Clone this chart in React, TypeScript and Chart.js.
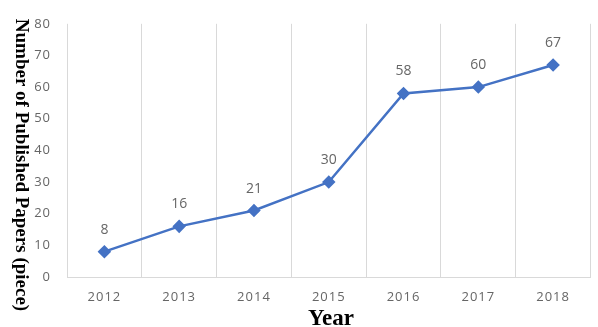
import React, { useEffect, useRef } from "react";
import { Chart, registerables } from "chart.js";

Chart.register(...registerables);

const categories = ["2012", "2013", "2014", "2015", "2016", "2017", "2018"];
const papers = [8, 16, 21, 30, 58, 60, 67];
const yMin = 0;
const yMax = 80;
const yStep = 10;
const yTitle = "Number of Published Papers (piece)";
const xTitle = "Year";

export default function App() {
  const ref = useRef<HTMLCanvasElement>(null);

  useEffect(() => {
    document.body.style.margin = "0";
    const canvas = ref.current;
    if (!canvas) return;

    const spacing = {
      id: "spacing",
      beforeDraw(chart: any) {
        (chart.ctx as any).letterSpacing = "1px";
      },
    };

    const pointLabels = {
      id: "pointLabels",
      afterDatasetsDraw(chart: any) {
        const ctx = chart.ctx;
        const meta = chart.getDatasetMeta(0);
        ctx.save();
        (ctx as any).letterSpacing = "0px";
        ctx.font = "14px 'Open Sans'";
        ctx.fillStyle = "#666666";
        ctx.textAlign = "center";
        ctx.textBaseline = "middle";
        meta.data.forEach((pt: any, i: number) => {
          ctx.fillText(String(papers[i]), pt.x, pt.y - 22);
        });
        ctx.restore();
      },
    };

    const titles = {
      id: "titles",
      afterDraw(chart: any) {
        const ctx = chart.ctx;
        ctx.save();
        (ctx as any).letterSpacing = "0px";
        ctx.fillStyle = "#000000";
        ctx.font = "bold 23px 'Liberation Serif'";
        ctx.textAlign = "center";
        ctx.textBaseline = "alphabetic";
        ctx.fillText(xTitle, 331, 325);
        ctx.translate(21, 165);
        ctx.rotate(Math.PI / 2);
        ctx.font = "bold 19px 'Liberation Serif'";
        ctx.textBaseline = "middle";
        ctx.fillText(yTitle, 0, 0);
        ctx.restore();
      },
    };

    const chart = new Chart(canvas, {
      type: "line",
      data: {
        labels: categories,
        datasets: [
          {
            data: papers,
            borderColor: "#4472C4",
            backgroundColor: "#4472C4",
            borderWidth: 2.5,
            pointStyle: "rectRot",
            pointRadius: 5,
            pointHoverRadius: 5,
            pointBackgroundColor: "#4472C4",
            pointBorderColor: "#4472C4",
            tension: 0,
          },
        ],
      },
      options: {
        animation: false,
        responsive: true,
        maintainAspectRatio: false,
        layout: { padding: { top: 23, right: 1, left: 0, bottom: 0 } },
        plugins: {
          legend: { display: false },
          tooltip: { enabled: false },
          title: { display: false },
        },
        scales: {
          x: {
            type: "category",
            offset: true,
            grid: { offset: true, color: "#d9d9d9", drawTicks: false, lineWidth: 1 },
            border: { display: true, color: "#d9d9d9" },
            ticks: {
              color: "#666666",
              font: { family: "'Open Sans'", size: 13 },
              padding: 12,
              maxRotation: 0,
            },
            afterFit(scale: any) {
              scale.height = 50;
            },
          },
          y: {
            min: yMin,
            max: yMax,
            grid: { display: false, drawTicks: false },
            border: { display: false },
            ticks: {
              stepSize: yStep,
              color: "#666666",
              font: { family: "'Open Sans'", size: 13 },
              padding: 16,
            },
            afterFit(scale: any) {
              scale.width = 67;
            },
          },
        },
      },
      plugins: [spacing, pointLabels, titles],
    });

    return () => chart.destroy();
  }, []);

  return (
    <div style={{ width: 598, height: 327, position: "relative" }}>
      <canvas ref={ref} />
    </div>
  );
}
